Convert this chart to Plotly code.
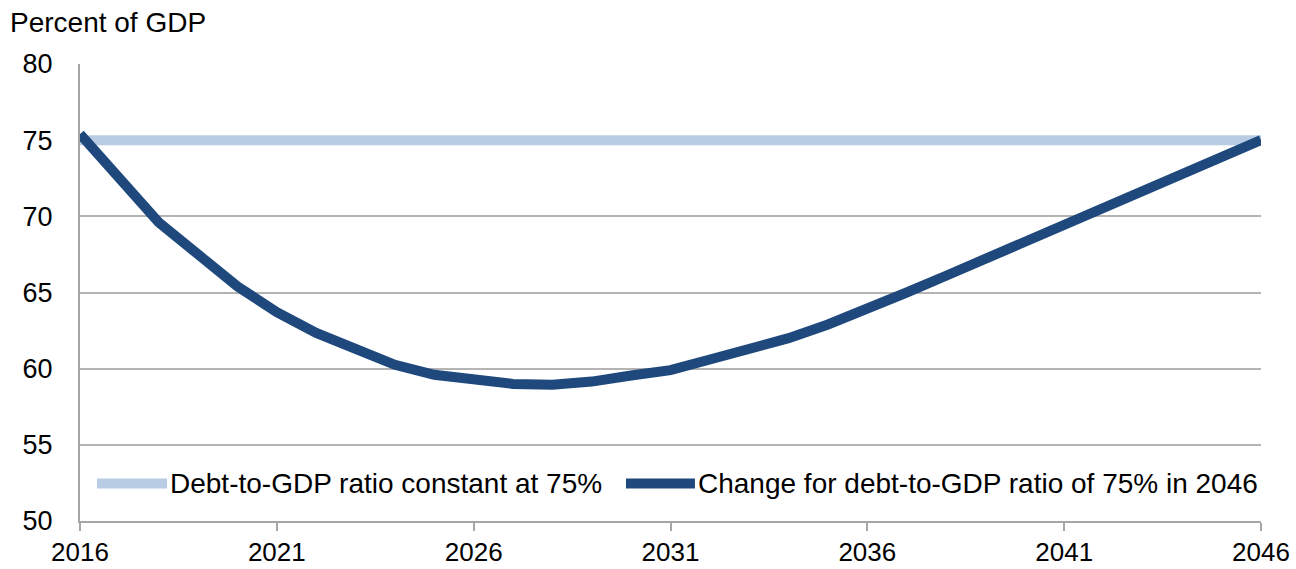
import plotly.graph_objects as go

# Projection years and debt-to-GDP paths (percent of GDP)
years = list(range(2016, 2047))
constant_ratio = [75.0] * len(years)
target_path = [
    75.4, 72.4, 69.6, 67.5, 65.4, 63.7, 62.35, 61.3, 60.25, 59.6,
    59.35, 59.0, 58.95, 59.15, 59.55, 59.9, 60.6, 61.3, 62.0, 62.9,
    63.9, 65.0, 66.1, 67.2, 68.4, 69.5, 70.6, 71.7, 72.8, 73.9, 75.0,
]
series_names = [
    "Debt-to-GDP ratio constant at 75%",
    "Change for debt-to-GDP ratio of 75% in 2046",
]
x_ticks = [2016, 2021, 2026, 2031, 2036, 2041, 2046]
y_ticks = [50, 55, 60, 65, 70, 75, 80]

LIGHT = "#b8cce4"
DARK = "#1f497d"
GRID = "#b4b4b4"
AXIS = "#a6a6a6"
FONT = "Liberation Sans, Arial, sans-serif"
SIZE = 28

fig = go.Figure()
fig.add_trace(go.Scatter(
    x=years, y=constant_ratio, mode="lines", name=series_names[0],
    line=dict(color=LIGHT, width=10), showlegend=False,
))
fig.add_trace(go.Scatter(
    x=years, y=target_path, mode="lines", name=series_names[1],
    line=dict(color=DARK, width=10), showlegend=False,
))

# Legend drawn inside the plot, near the bottom
legend_y = 0.082
legend_items = [
    (0.0144, 0.0737, 0.0745, LIGHT, series_names[0]),
    (0.4623, 0.5207, 0.5215, DARK, series_names[1]),
]
for x0, x1, xt, color, label in legend_items:
    fig.add_shape(type="line", xref="paper", yref="paper",
                  x0=x0, x1=x1, y0=legend_y, y1=legend_y,
                  line=dict(color=color, width=10))
    fig.add_annotation(xref="paper", yref="paper", x=xt, y=legend_y,
                       xanchor="left", yanchor="middle", showarrow=False,
                       text=label, font=dict(family=FONT, size=SIZE, color="#000"))

fig.add_annotation(xref="paper", yref="paper", x=-0.061, y=1.052,
                   xanchor="left", yanchor="bottom", showarrow=False,
                   text="Percent of GDP",
                   font=dict(family=FONT, size=SIZE, color="#000"))

fig.update_layout(
    width=1296, height=569,
    margin=dict(l=80, r=35, t=64, b=48),
    paper_bgcolor="white", plot_bgcolor="white",
    font=dict(family=FONT, size=SIZE, color="#000"),
    xaxis=dict(
        range=[2016, 2046], tickvals=x_ticks, showgrid=False, zeroline=False,
        showline=True, linecolor=AXIS, linewidth=2,
        ticks="outside", ticklen=8, tickwidth=2, tickcolor=AXIS,
        ticklabelstandoff=-1, automargin=False,
        tickfont=dict(family=FONT, size=26, color="#000"),
    ),
    yaxis=dict(
        range=[50, 80], tickvals=y_ticks, showgrid=True, gridcolor=GRID,
        gridwidth=2, zeroline=False, showline=True, linecolor=AXIS,
        linewidth=2, ticks="", ticklabelstandoff=20, automargin=False,
        tickfont=dict(family=FONT, size=27, color="#000"),
    ),
)

fig.write_html("out.html")
